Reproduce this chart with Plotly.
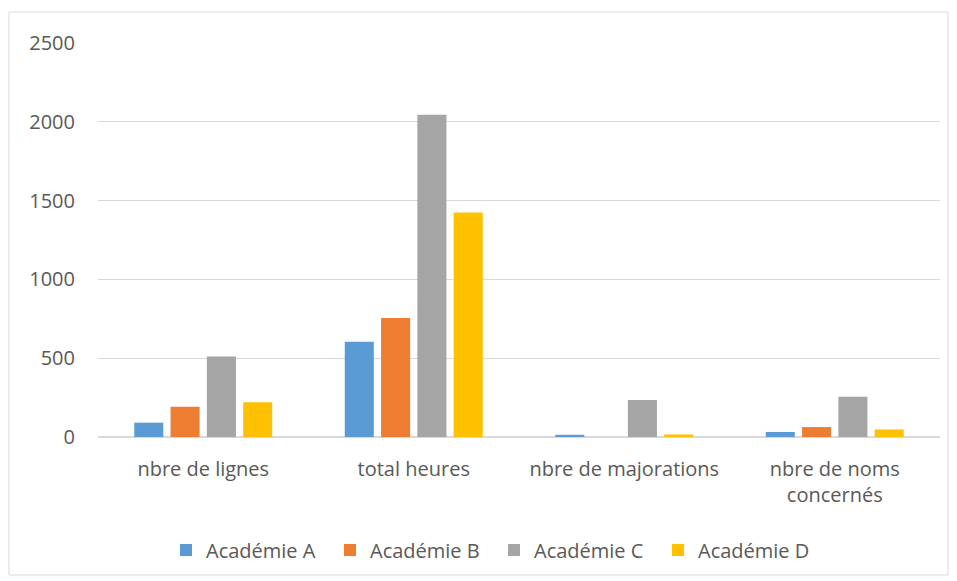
import plotly.graph_objects as go

categories = ["nbre de lignes", "total heures", "nbre de majorations", "nbre de noms<br>concernés"]
series_names = ["Académie A", "Académie B", "Académie C", "Académie D"]
academie_a = [91, 605, 14, 32]
academie_b = [192, 755, 0, 63]
academie_c = [510, 2045, 235, 256]
academie_d = [220, 1425, 16, 48]
colors = ["#5B9BD5", "#ED7D31", "#A5A5A5", "#FFC000"]
y_ticks = [0, 500, 1000, 1500, 2000, 2500]

fig = go.Figure()
for name, vals, col in zip(series_names, [academie_a, academie_b, academie_c, academie_d], colors):
    fig.add_trace(go.Bar(name=name, x=categories, y=vals, marker=dict(color=col, line=dict(width=0))))

L, R, T, B = 98, 17, 43, 144
W, H = 957, 581
pw, ph = W - L - R, H - T - B

def px_x(x):
    return (x - L) / pw

def px_y(y):
    return (H - B - y) / ph

FS = 20
fig.update_layout(
    width=W, height=H,
    margin=dict(l=L, r=R, t=T, b=B, autoexpand=False),
    paper_bgcolor="white", plot_bgcolor="white",
    barmode="group", bargap=0.31, bargroupgap=0.2,
    font=dict(family="Open Sans, Liberation Sans, sans-serif", size=FS, color="#595959"),
    showlegend=True,
    legend=dict(orientation="h", x=px_x(166), xanchor="left", y=px_y(550), yanchor="middle",
                font=dict(size=FS, color="#595959"), itemwidth=30, traceorder="normal",
                entrywidth=119, entrywidthmode="pixels"),
    xaxis=dict(showgrid=False, showline=True, linecolor="#D9D9D9", linewidth=1,
               ticks="", ticklabelstandoff=14, tickfont=dict(size=FS, color="#595959")),
    yaxis=dict(range=[0, 2500], tickvals=y_ticks, showgrid=True, gridcolor="#D9D9D9", gridwidth=1,
               zeroline=True, zerolinecolor="#D9D9D9", showline=False, ticks="",
               ticklabelstandoff=22, tickfont=dict(size=FS, color="#595959")),
    shapes=[dict(type="rect", xref="paper", yref="paper",
                 x0=px_x(9), x1=px_x(948), y0=px_y(575), y1=px_y(12),
                 line=dict(color="#D9D9D9", width=1), fillcolor="rgba(0,0,0,0)", layer="below")],
)

fig.write_html("out.html")
